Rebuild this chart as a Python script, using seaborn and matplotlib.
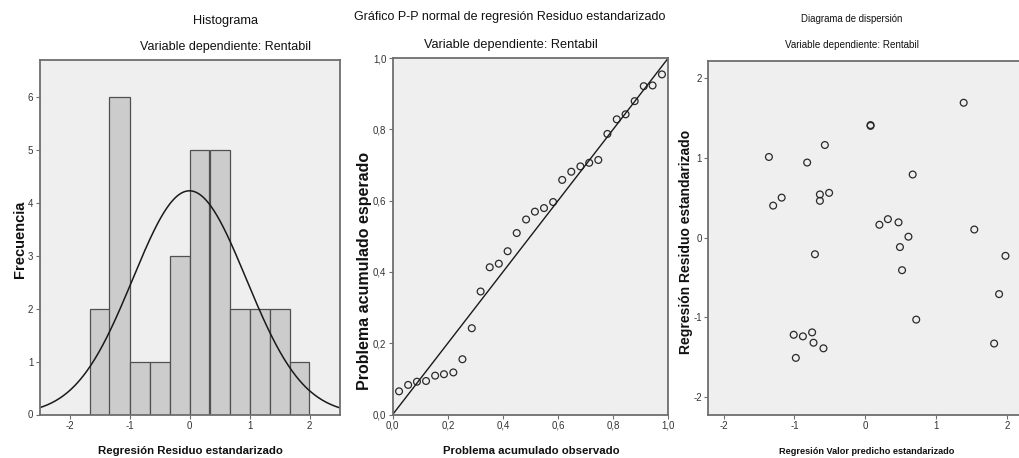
import numpy as np
import pandas as pd
import matplotlib
matplotlib.use('Agg')
import matplotlib.pyplot as plt
import matplotlib.ticker as mticker
import seaborn as sns

# Standardized residuals / predicted values
pred_std = [-1.36, -1.30, -1.18, -0.82, -0.57, -0.64, -0.64, -0.51, -0.71, 0.075,
            0.075, 1.39, 0.67, 0.20, 0.32, 0.47, 0.61, 0.49, 0.52, 1.54,
            1.98, 1.89, 0.72, 1.82, -1.01, -0.88, -0.75, -0.73, -0.59, -0.98]
resid_std = [1.01, 0.40, 0.50, 0.94, 1.16, 0.54, 0.46, 0.56, -0.21, 1.41,
             1.40, 1.69, 0.79, 0.16, 0.23, 0.19, 0.01, -0.12, -0.41, 0.10,
             -0.23, -0.71, -1.03, -1.33, -1.22, -1.24, -1.19, -1.32, -1.39, -1.51]

# P-P plot points
pp_observed = [0.023, 0.056, 0.088, 0.121, 0.154, 0.186, 0.220, 0.253, 0.287, 0.319,
               0.352, 0.385, 0.417, 0.450, 0.484, 0.516, 0.549, 0.582, 0.615, 0.648,
               0.681, 0.713, 0.746, 0.779, 0.813, 0.845, 0.878, 0.911, 0.943, 0.977]
pp_expected = [0.065, 0.083, 0.092, 0.094, 0.109, 0.113, 0.118, 0.155, 0.242, 0.345,
               0.413, 0.423, 0.458, 0.509, 0.547, 0.569, 0.579, 0.596, 0.658, 0.681,
               0.696, 0.706, 0.714, 0.787, 0.828, 0.842, 0.879, 0.921, 0.923, 0.954]

# histogram settings and normal curve parameters
bin_edges = np.linspace(-5 / 3, 2, 12)
curve_mean = 0.0
curve_sd = 0.945
n_obs = 30

df = pd.DataFrame({'pred': pred_std, 'resid': resid_std})
df_pp = pd.DataFrame({'obs': pp_observed, 'exp': pp_expected})

sns.set_style('white')
plt.rcParams['font.family'] = ['Liberation Sans', 'DejaVu Sans']
plt.rcParams['axes.unicode_minus'] = False

W, H = 1019, 458
fig = plt.figure(figsize=(W / 100, H / 100), dpi=100)


def px_axes(left, top, right, bottom):
    return fig.add_axes([left / W, 1 - bottom / H, (right - left) / W, (bottom - top) / H])


panel_bg = '#efefef'
spine_col = '#6e6e6e'
tick_col = '#333333'


def style_axes(ax, hide_right=False):
    ax.set_facecolor(panel_bg)
    for name, sp in ax.spines.items():
        sp.set_color(spine_col)
        sp.set_linewidth(1.3)
    if hide_right:
        ax.spines['right'].set_visible(False)
    ax.tick_params(axis='both', direction='out', length=3, width=0.8, color=spine_col,
                   labelsize=7, labelcolor=tick_col, pad=1.5, left=True, bottom=True)
    ax.set_xlabel('')
    ax.set_ylabel('')


comma = mticker.FuncFormatter(lambda v, p: f'{v:.1f}'.replace('.', ','))

# Histogram
ax1 = px_axes(39.5, 60, 339.5, 414.5)
sns.histplot(x=df['resid'], bins=bin_edges, ax=ax1, color='#cccccc', edgecolor='#505050',
             linewidth=0.9, alpha=1)
xs = np.linspace(-2.5, 2.5, 300)
ys = n_obs * (bin_edges[1] - bin_edges[0]) * np.exp(-0.5 * ((xs - curve_mean) / curve_sd) ** 2) / (curve_sd * np.sqrt(2 * np.pi))
sns.lineplot(x=xs, y=ys, ax=ax1, color='#1a1a1a', linewidth=1.1)
ax1.set_xlim(-2.5, 2.5)
ax1.set_ylim(0, 6.69)
ax1.set_xticks([-2, -1, 0, 1, 2])
ax1.set_yticks(range(7))
style_axes(ax1)

# P-P plot
ax2 = px_axes(392.7, 58, 668.3, 414.5)
sns.lineplot(x=[0, 1], y=[0, 1], ax=ax2, color='#1a1a1a', linewidth=1.0)
sns.scatterplot(data=df_pp, x='obs', y='exp', ax=ax2, marker='o', s=24,
                facecolors='none', edgecolor='#2a2a2a', linewidth=0.9)
ax2.set_xlim(0, 1)
ax2.set_ylim(0, 1)
ax2.set_xticks(np.arange(0, 1.01, 0.2))
ax2.set_yticks(np.arange(0, 1.01, 0.2))
ax2.xaxis.set_major_formatter(comma)
ax2.yaxis.set_major_formatter(comma)
style_axes(ax2)

# Scatter
ax3 = px_axes(708, 60.5, 1026, 414.5)
sns.scatterplot(data=df, x='pred', y='resid', ax=ax3, marker='o', s=24,
                facecolors='none', edgecolor='#2a2a2a', linewidth=0.9)
ax3.set_xlim(-2.22, 2.27)
ax3.set_ylim(-2.22, 2.22)
ax3.set_xticks([-2, -1, 0, 1, 2])
ax3.set_yticks([-2, -1, 0, 1, 2])
style_axes(ax3, hide_right=True)


def ftext(x, y, s, **kw):
    fig.text(x / W, 1 - y / H, s, ha='center', va='center', color='#111111', **kw)


# titles
ftext(226, 21, 'Histograma', fontsize=9.2)
ftext(226, 47, 'Variable dependiente: Rentabil', fontsize=9)
ftext(510, 17, 'Gráfico P-P normal de regresión Residuo estandarizado', fontsize=9)
ftext(511, 45, 'Variable dependiente: Rentabil', fontsize=9.2)
ftext(852, 19, 'Diagrama de dispersión', fontsize=6.9)
ftext(852, 45, 'Variable dependiente: Rentabil', fontsize=7.1)

# axis labels
ftext(190, 451, 'Regresión Residuo estandarizado', fontsize=8.2, fontweight='bold')
ftext(531, 451, 'Problema acumulado observado', fontsize=8.2, fontweight='bold')
ftext(867, 451, 'Regresión Valor predicho estandarizado', fontsize=6.6, fontweight='bold')
ftext(20, 239, 'Frecuencia', fontsize=10.5, fontweight='bold', rotation=90)
ftext(364, 271, 'Problema acumulado esperado', fontsize=11.5, fontweight='bold', rotation=90)
ftext(686, 242, 'Regresión Residuo estandarizado', fontsize=10, fontweight='bold', rotation=90)

fig.savefig('out.png', dpi=100)
